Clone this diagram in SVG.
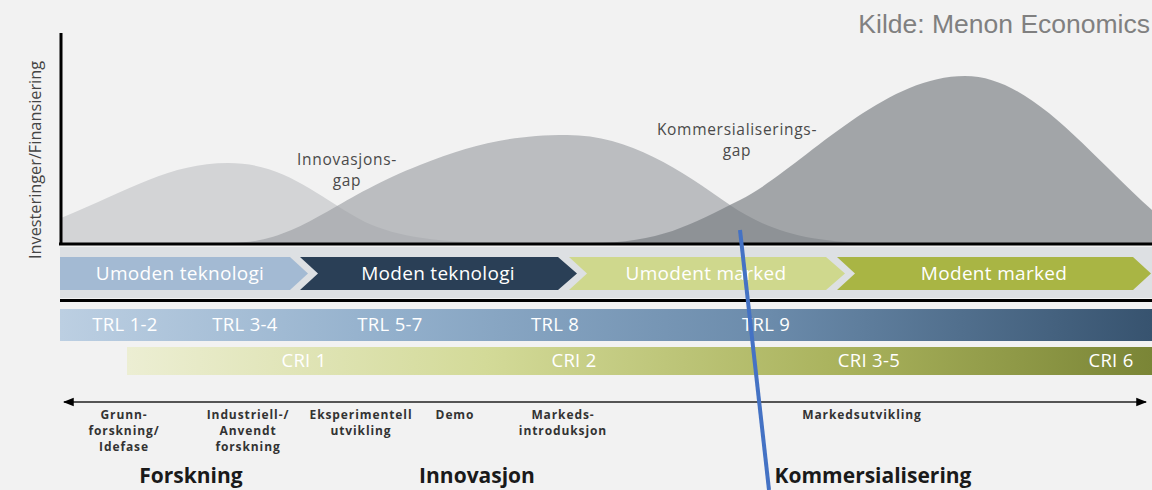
<svg xmlns="http://www.w3.org/2000/svg" width="1152" height="490" viewBox="0 0 1152 490">
<defs>
<style>
.lbl{font-family:"Open Sans","Liberation Sans",sans-serif;fill:#4a4a4a;font-size:15.5px;text-anchor:middle;letter-spacing:0.7px}
.chev{font-family:"Open Sans","Liberation Sans",sans-serif;fill:#ffffff;font-size:19px;text-anchor:middle;letter-spacing:0.3px}
.bar{font-family:"Open Sans","Liberation Sans",sans-serif;fill:#ffffff;font-size:18.5px;text-anchor:middle;letter-spacing:0.3px}
.small{font-family:"Open Sans","Liberation Sans",sans-serif;fill:#333333;font-size:12px;font-weight:bold;text-anchor:middle;letter-spacing:0.9px}
.big{font-family:"Open Sans","Liberation Sans",sans-serif;fill:#1a1a1a;font-size:21px;font-weight:bold;text-anchor:middle}
.axis{stroke:#000;stroke-width:3;fill:none}
</style>
<linearGradient id="trl" x1="0" y1="0" x2="1" y2="0">
<stop offset="0" stop-color="#bccfe2"/>
<stop offset="0.3" stop-color="#93b0cc"/>
<stop offset="0.65" stop-color="#6b8bab"/>
<stop offset="1" stop-color="#37536f"/>
</linearGradient>
<linearGradient id="cri" x1="0" y1="0" x2="1" y2="0">
<stop offset="0" stop-color="#eceed3"/>
<stop offset="0.35" stop-color="#d3da98"/>
<stop offset="0.7" stop-color="#a9b25c"/>
<stop offset="1" stop-color="#7a8536"/>
</linearGradient>
<marker id="ah" viewBox="0 0 10 10" refX="9" refY="5" markerWidth="6" markerHeight="6" orient="auto-start-reverse">
<path d="M0,1 L10,5 L0,9 Z" fill="#000"/>
</marker>
</defs>
<rect width="1152" height="490" fill="#f2f2f2"/>
<text x="1150" y="33" font-family="Liberation Sans, Arial, sans-serif" font-size="26.5" fill="#808080" text-anchor="end">Kilde: Menon Economics</text>

<g id="curves">
<path id="curve1" d="M61,243 L61,218 C130,190 170,163 228,163 C285,163 315,195 365,222 C400,238 440,243 520,243 Z" fill="#d3d4d6"/>
<path id="curve2" d="M230,243 C300,243 330,200 420,165 C470,145 510,135 567,135 C630,135 680,170 730,205 C770,232 810,243 880,243 Z" fill="#9da0a4" fill-opacity="0.65"/>
<path id="curve3" d="M590,243 C660,243 690,225 740,200 C800,170 880,76 965,76 C1030,76 1085,150 1152,210 L1152,243 Z" fill="#767a7e" fill-opacity="0.64"/>
</g>

<g id="axes">
<line class="axis" x1="61" y1="33" x2="61" y2="245"/>
<line class="axis" x1="59" y1="244" x2="1152" y2="244"/>
</g>
<text transform="translate(41,160) rotate(-90)" font-family="Open Sans, Liberation Sans, sans-serif" font-size="16.3" fill="#444" text-anchor="middle">Investeringer/Finansiering</text>

<g id="gap-labels">
<text class="lbl" x="347" y="165">Innovasjons-</text>
<text class="lbl" x="347" y="186">gap</text>
<text class="lbl" x="737" y="135">Kommersialiserings-</text>
<text class="lbl" x="737" y="156">gap</text>
</g>

<g id="phase-band">
<rect x="60" y="247" width="1092" height="51" fill="#dde0e3"/>
<line x1="60" y1="300.5" x2="1152" y2="300.5" stroke="#000" stroke-width="3"/>
</g>
<g id="chev1"><polygon points="60,257 290,257 308,273.5 290,290 60,290" fill="#a3bad3"/><text class="chev" x="180" y="280">Umoden teknologi</text></g>
<g id="chev2"><polygon points="300,257 558,257 577,273.5 558,290 300,290 318,273.5" fill="#2a3f56"/><text class="chev" x="438" y="280">Moden teknologi</text></g>
<g id="chev3"><polygon points="569,257 826,257 845,273.5 826,290 569,290 587,273.5" fill="#cfd88d"/><text class="chev" x="706" y="280">Umodent marked</text></g>
<g id="chev4"><polygon points="837,257 1133,257 1151,273.5 1133,290 837,290 855,273.5" fill="#a9b544"/><text class="chev" x="994" y="280">Modent marked</text></g>

<g id="trl-bar">
<rect x="60" y="309" width="1092" height="32" fill="url(#trl)"/>
<text class="bar" x="125" y="331">TRL 1-2</text>
<text class="bar" x="245" y="331">TRL 3-4</text>
<text class="bar" x="390" y="331">TRL 5-7</text>
<text class="bar" x="555" y="331">TRL 8</text>
<text class="bar" x="766" y="331">TRL 9</text>
</g>
<g id="cri-bar">
<rect x="127" y="347" width="1025" height="28" fill="url(#cri)"/>
<text class="bar" x="304" y="367">CRI 1</text>
<text class="bar" x="574" y="367">CRI 2</text>
<text class="bar" x="869" y="367">CRI 3-5</text>
<text class="bar" x="1111" y="367">CRI 6</text>
</g>

<g id="connectors">
<line x1="64" y1="402" x2="1146" y2="402" stroke="#555" stroke-width="1.8" marker-start="url(#ah)" marker-end="url(#ah)"/>
<line x1="740" y1="230" x2="769" y2="490" stroke="#4472c4" stroke-width="4"/>
</g>

<g id="stages">
<text class="small" x="124" y="419">Grunn-</text>
<text class="small" x="124" y="435">forskning/</text>
<text class="small" x="124" y="451">Idefase</text>
<text class="small" x="248" y="419">Industriell-/</text>
<text class="small" x="248" y="435">Anvendt</text>
<text class="small" x="248" y="451">forskning</text>
<text class="small" x="361" y="419">Eksperimentell</text>
<text class="small" x="361" y="435">utvikling</text>
<text class="small" x="455" y="419">Demo</text>
<text class="small" x="563" y="419">Markeds-</text>
<text class="small" x="563" y="435">introduksjon</text>
<text class="small" x="862" y="419">Markedsutvikling</text>
</g>
<g id="phases">
<text class="big" x="191" y="483">Forskning</text>
<text class="big" x="477" y="483">Innovasjon</text>
<text class="big" x="873" y="483">Kommersialisering</text>
</g>
</svg>
